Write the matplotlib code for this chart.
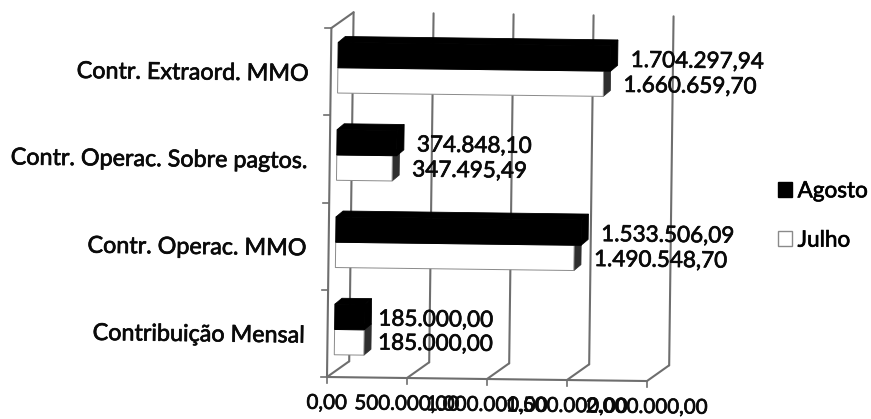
import matplotlib
matplotlib.use("Agg")
import matplotlib.pyplot as plt
import matplotlib.patheffects as pe
from matplotlib.patches import Polygon, Patch
from matplotlib.transforms import Affine2D, IdentityTransform

categories = ["Contribuição Mensal", "Contr. Operac. MMO",
              "Contr. Operac. Sobre pagtos.", "Contr. Extraord. MMO"]
agosto = [185000.00, 1533506.09, 374848.10, 1704297.94]
julho = [185000.00, 1490548.70, 347495.49, 1660659.70]
agosto_labels = ["185.000,00", "1.533.506,09", "374.848,10", "1.704.297,94"]
julho_labels = ["185.000,00", "1.490.548,70", "347.495,49", "1.660.659,70"]
xticks = [0, 500000, 1000000, 1500000, 2000000]
xticklabels = ["0,00", "500.000,00", "1.000.000,00", "1.500.000,00", "2.000.000,00"]

W, H = 871, 419
FONT = "Lato"
SIZE = 16.2
TILT = -0.72
GRID = "#6e6e6e"
fig = plt.figure(figsize=(W / 100, H / 100), dpi=100, facecolor="white")
ox, oy = 327, H - 377
ax = fig.add_axes([ox / W, oy / H, 320 / W, 349 / H])
ax.set_xlim(0, 2000000)
ax.set_ylim(0, 4)
ax.axis("off")

rot = Affine2D().rotate_deg_around(ox, oy, TILT)
def layer(dx, dy):
    return ax.transData + Affine2D().translate(dx, dy) + rot

front = layer(0, 0)
back = layer(22, 16)
bar_base = layer(7, 4)
bar_depth = layer(14, 10)

def seg(t1, p1, t2, p2, z=1, lw=1.5, color=GRID):
    a, b = t1.transform(p1), t2.transform(p2)
    ax.plot([a[0], b[0]], [a[1], b[1]], transform=IdentityTransform(),
            color=color, lw=lw, zorder=z, clip_on=False, solid_capstyle="round")

# walls and floor
for v in xticks:
    seg(back, (v, 0), back, (v, 4))
    seg(front, (v, 0), back, (v, 0))
    a = front.transform((v, 0))
    ax.plot([a[0], a[0]], [a[1], a[1] - 6], transform=IdentityTransform(),
            color=GRID, lw=1.2, clip_on=False, zorder=1)
seg(front, (0, 0), front, (xticks[-1], 0))
seg(front, (0, 0), front, (0, 4))
seg(front, (0, 4), back, (0, 4))
for y in range(5):
    a = front.transform((0, y))
    ax.plot([a[0] - 6, a[0]], [a[1], a[1]], transform=IdentityTransform(),
            color=GRID, lw=1.2, clip_on=False, zorder=1)

BAR_H = 0.29

def bar3d(y0, v, face, side, edge, z):
    corners = [(0, y0), (v, y0), (v, y0 + BAR_H), (0, y0 + BAR_H)]
    f = [bar_base.transform(c) for c in corners]
    b = [bar_depth.transform(c) for c in corners]
    ident = IdentityTransform()
    ax.add_patch(Polygon([f[1], f[2], b[2], b[1]], closed=True, transform=ident,
                         fc=side, ec=side, lw=0.6, zorder=z, clip_on=False))
    ax.add_patch(Polygon([f[3], f[2], b[2], b[3]], closed=True, transform=ident,
                         fc=side, ec=side, lw=0.6, zorder=z, clip_on=False))
    ax.barh(y0 + BAR_H / 2, v, height=BAR_H, transform=bar_base, color=face,
            edgecolor=edge, linewidth=0.7, zorder=z + 0.1, clip_on=False)

for i in range(len(categories)):
    y = i + 0.5
    bar3d(y - BAR_H, julho[i], "white", "#2e2e2e", "#8a8a8a", 3)
    bar3d(y, agosto[i], "black", "black", "black", 4)

stroke = [pe.withStroke(linewidth=0.5, foreground="#0a0a0a")]
txt = dict(family=FONT, fontsize=SIZE, color="#0a0a0a", rotation=TILT,
           rotation_mode="anchor", zorder=6, clip_on=False, path_effects=stroke)
for i in range(len(categories)):
    y = i + 0.5
    nudge = -6 if agosto[i] < 200000 else 0
    ax.text(agosto[i], y, agosto_labels[i], transform=layer(27 + nudge, 14.5),
            ha="left", va="center", **txt)
    ax.text(julho[i], y, julho_labels[i], transform=layer(27 + nudge, -10.5 + (1 if nudge else 0)),
            ha="left", va="center", **txt)
    ax.text(0, y, categories[i], transform=layer(-22, -3), ha="right", va="center",
            **{**txt, "fontsize": 16.8})

for v, s in zip(xticks, xticklabels):
    ax.text(v, 0, s, transform=layer(0, -26), ha="center", va="center",
            **{**txt, "fontsize": 14.8})

handles = [Patch(fc="black", ec="black", label="Agosto"),
           Patch(fc="white", ec="#8a8a8a", label="Julho")]
leg = fig.legend(handles=handles, loc="center left", bbox_to_anchor=(778 / W, (H - 216) / H),
                 frameon=False, handlelength=0.62, handleheight=0.62, handletextpad=0.25,
                 labelspacing=1.3, borderpad=0, borderaxespad=0,
                 prop=dict(family=FONT, size=SIZE))
for t in leg.get_texts():
    t.set_path_effects(stroke)

fig.savefig("out.png", dpi=100, facecolor="white")
